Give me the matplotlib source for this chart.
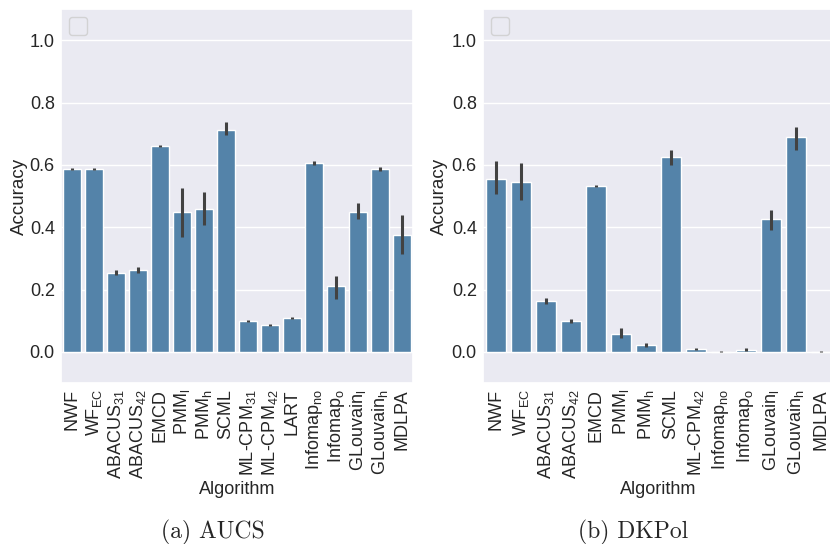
import numpy as np
import matplotlib
matplotlib.use("Agg")
import matplotlib.pyplot as plt
import seaborn as sns

# AUCS panel
aucs_algos = ["NWF", r"WF$_{\mathrm{EC}}$", r"ABACUS$_{31}$", r"ABACUS$_{42}$", "EMCD",
              r"PMM$_{\mathrm{l}}$", r"PMM$_{\mathrm{h}}$", "SCML", r"ML-CPM$_{31}$",
              r"ML-CPM$_{42}$", "LART", r"Infomap$_{\mathrm{no}}$", r"Infomap$_{\mathrm{o}}$",
              r"GLouvain$_{\mathrm{l}}$", r"GLouvain$_{\mathrm{h}}$", "MDLPA"]
aucs_acc = [0.587, 0.587, 0.254, 0.261, 0.660, 0.448, 0.459, 0.711, 0.100,
            0.085, 0.107, 0.605, 0.212, 0.450, 0.587, 0.376]
aucs_lo = [0.584, 0.584, 0.245, 0.252, 0.657, 0.370, 0.408, 0.697, 0.097,
           0.082, 0.104, 0.598, 0.169, 0.427, 0.581, 0.315]
aucs_hi = [0.590, 0.590, 0.264, 0.271, 0.663, 0.526, 0.514, 0.736, 0.103,
           0.088, 0.111, 0.613, 0.243, 0.476, 0.594, 0.440]

# DKPol panel
dk_algos = ["NWF", r"WF$_{\mathrm{EC}}$", r"ABACUS$_{31}$", r"ABACUS$_{42}$", "EMCD",
            r"PMM$_{\mathrm{l}}$", r"PMM$_{\mathrm{h}}$", "SCML", r"ML-CPM$_{42}$",
            r"Infomap$_{\mathrm{no}}$", r"Infomap$_{\mathrm{o}}$",
            r"GLouvain$_{\mathrm{l}}$", r"GLouvain$_{\mathrm{h}}$", "MDLPA"]
dk_acc = [0.554, 0.546, 0.163, 0.099, 0.531, 0.058, 0.021, 0.624, 0.009,
          0.001, 0.005, 0.425, 0.688, 0.001]
dk_lo = [0.507, 0.488, 0.154, 0.094, 0.528, 0.043, 0.017, 0.600, 0.007,
         0.000, 0.002, 0.391, 0.648, 0.000]
dk_hi = [0.611, 0.607, 0.173, 0.105, 0.534, 0.077, 0.027, 0.647, 0.012,
         0.003, 0.012, 0.456, 0.721, 0.003]

sns.set_theme(style="darkgrid")
plt.rcParams["font.family"] = ["Liberation Sans", "DejaVu Sans"]
plt.rcParams["mathtext.fontset"] = "custom"
plt.rcParams["mathtext.rm"] = "Liberation Sans"
plt.rcParams["mathtext.it"] = "Liberation Sans:italic"

bar_color = "#5483a9"
err_color = "#424242"

fig = plt.figure(figsize=(8.3, 5.44), dpi=100)
ax1 = fig.add_axes([61 / 830, 161 / 544, 352 / 830, 374 / 544])
ax2 = fig.add_axes([483 / 830, 161 / 544, 350 / 830, 374 / 544])


def draw(ax, algos, acc, lo, hi, ylab_x):
    x = np.arange(len(algos))
    ax.bar(x, acc, width=0.8, color=bar_color, edgecolor="white", linewidth=1)
    ax.vlines(x, lo, hi, color=err_color, linewidth=2.2)
    ax.set_xlim(-0.5, len(algos) - 0.5)
    ax.set_ylim(-0.1, 1.1)
    ax.set_yticks([0.0, 0.2, 0.4, 0.6, 0.8, 1.0])
    ax.set_xticks(x)
    ax.set_xticklabels(algos, rotation=90, fontsize=13)
    ax.tick_params(axis="y", labelsize=13)
    ax.tick_params(length=0, pad=4.5)
    ax.grid(False, axis="x")
    ax.set_xlabel("Algorithm", fontsize=13)
    ax.set_ylabel("Accuracy", fontsize=13.5)
    ax.xaxis.set_label_coords(0.5, -0.262)
    ax.yaxis.set_label_coords(ylab_x, 0.5)
    ax.legend(handles=[], loc="upper left", borderpad=0.6)


draw(ax1, aucs_algos, aucs_acc, aucs_lo, aucs_hi, -0.094)
draw(ax2, dk_algos, dk_acc, dk_lo, dk_hi, -0.100)

fig.text(213 / 830, 1 - 532 / 544, "(a) AUCS", ha="center", va="center",
         fontsize=17, family="cmr10")
fig.text(633 / 830, 1 - 532 / 544, "(b) DKPol", ha="center", va="center",
         fontsize=17, family="cmr10")

fig.savefig("out.png", dpi=100)
